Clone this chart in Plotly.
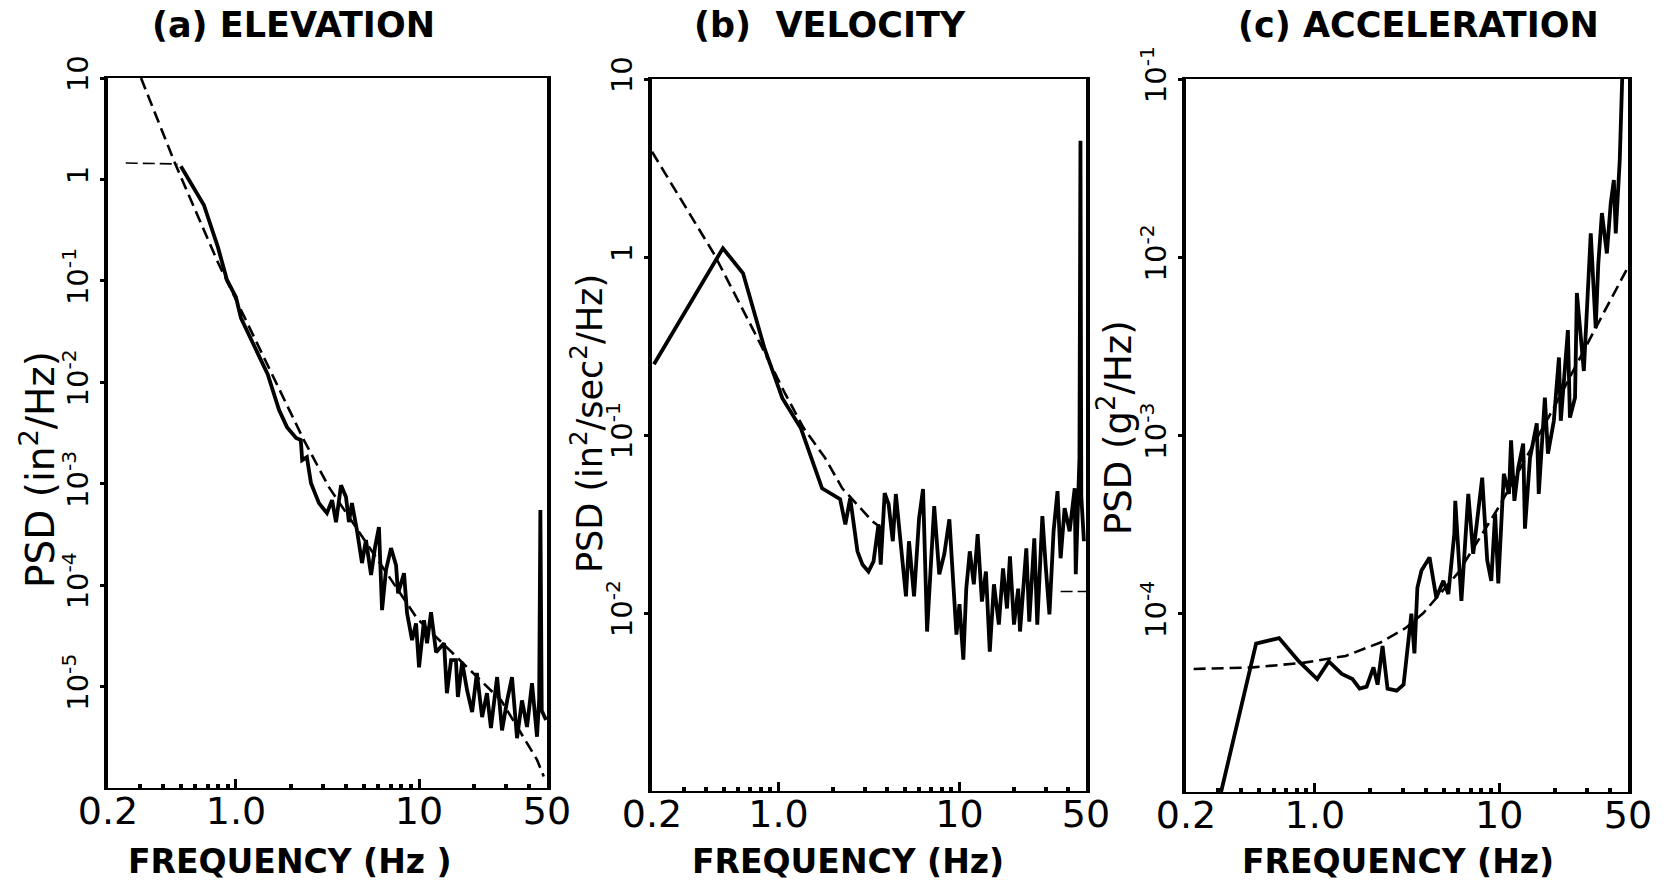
import math
import plotly.graph_objects as go

W, H = 1675, 886

# ---------------- (a) ELEVATION ----------------
elev_freq = [0.50, 0.668, 0.797, 0.893, 1.0, 1.065, 1.49, 1.72, 1.90, 2.13, 2.26, 2.30, 2.44, 2.57,
             2.84, 3.14, 3.35, 3.52, 3.75, 3.99, 4.14, 4.30, 4.58, 4.88, 5.13, 5.47, 5.75, 6.04,
             6.28, 6.60, 7.03, 7.49, 7.68, 8.28, 8.60, 9.16, 9.63, 10.0, 10.65, 11.06, 11.63,
             12.39, 13.7, 14.2, 14.96, 15.9, 16.3, 17.2, 18.3, 19.5, 20.7, 22.1, 23.5, 24.7,
             26.7, 28.4, 30.3, 32.2, 34.3, 36.5, 38.9, 41.4, 44.1, 45.3, 46.0, 46.8, 49.4]
elev_psd = [1.35, 0.56, 0.215, 0.102, 0.069, 0.043, 0.012, 0.00532, 0.00361, 0.00282, 0.00269,
            0.00171, 0.00183, 0.00101, 6.44e-4, 5.13e-4, 6.89e-4, 4.18e-4, 9.68e-4, 7.38e-4,
            4.18e-4, 6.44e-4, 3.48e-4, 1.65e-4, 2.78e-4, 1.26e-4, 2.37e-4, 3.73e-4, 5.67e-5,
            1.41e-4, 2.32e-4, 1.57e-4, 8.3e-5, 1.31e-4, 5.3e-5, 2.87e-5, 4.2e-5, 1.55e-5, 4.5e-5,
            2.68e-5, 5.4e-5, 2.18e-5, 2.68e-5, 8.6e-6, 1.82e-5, 1.82e-5, 7.9e-6, 1.74e-5, 9.2e-6,
            5.6e-6, 1.36e-5, 5.0e-6, 8.6e-6, 3.9e-6, 1.24e-5, 3.7e-6, 7.3e-6, 1.24e-5, 3.1e-6,
            7.3e-6, 4.0e-6, 1.08e-5, 3.2e-6, 7.5e-6, 5.5e-4, 5.8e-6, 4.7e-6]
elev_fit_freq = [0.303, 0.464, 0.80, 1.63, 2.35, 3.22, 9.75, 28.1, 44.1, 48.0]
elev_fit_psd = [10.0, 1.45, 0.15, 0.0105, 0.00269, 9.25e-4, 4.7e-5, 7.3e-6, 1.9e-6, 1.3e-6]
elev_low_freq = [0.25, 0.48]
elev_low_psd = [1.45, 1.42]

# ---------------- (b) VELOCITY ----------------
vel_freq = [0.205, 0.493, 0.637, 0.835, 1.05, 1.33, 1.74, 2.19, 2.34, 2.49, 2.73, 2.91, 3.14,
            3.35, 3.57, 3.67, 3.86, 4.06, 4.28, 4.45, 4.74, 5.06, 5.26, 5.61, 5.98, 6.29, 6.62,
            6.98, 7.25, 7.73, 8.24, 8.79, 9.25, 9.62, 10.0, 10.5, 10.9, 11.4, 12.0, 12.6, 13.3,
            14.0, 14.7, 15.5, 16.5, 17.4, 18.3, 19.0, 20.0, 21.1, 21.6, 23.4, 24.3, 25.9, 26.9,
            28.7, 29.9, 31.4, 33.1, 34.8, 36.2, 38.1, 40.6, 43.3, 43.9, 46.0, 46.6, 47.1, 48.7]
vel_psd = [0.25, 1.12, 0.81, 0.309, 0.161, 0.109, 0.0502, 0.0436, 0.0315, 0.0442, 0.0222,
           0.0187, 0.0171, 0.0195, 0.0315, 0.0187, 0.0471, 0.0408, 0.0253, 0.0466, 0.0243,
           0.0124, 0.0253, 0.0124, 0.034, 0.0497, 0.00787, 0.0214, 0.0398, 0.0165, 0.0214,
           0.0336, 0.0156, 0.00757, 0.0112, 0.00547, 0.0137, 0.0222, 0.0145, 0.0277, 0.0116,
           0.0171, 0.00607, 0.0145, 0.00861, 0.0178, 0.0106, 0.0208, 0.00861, 0.0137, 0.00787,
           0.0231, 0.00895, 0.0263, 0.00861, 0.035, 0.0187, 0.00982, 0.0288, 0.0484, 0.0203,
           0.0388, 0.0288, 0.0502, 0.0165, 0.0742, 4.5, 0.045, 0.0253]
vel_fit_freq = [0.2, 0.438, 0.763, 1.09, 1.38, 1.81, 2.25, 3.31, 3.7]
vel_fit_psd = [3.9, 1.05, 0.352, 0.17, 0.109, 0.0742, 0.0502, 0.0327, 0.030]
vel_tail_freq = [36.2, 50.0]
vel_tail_psd = [0.0132, 0.0132]

# ---------------- (c) ACCELERATION ----------------
acc_freq = [0.31, 0.48, 0.64, 0.82, 1.03, 1.19, 1.40, 1.60, 1.75, 1.91, 2.08, 2.19, 2.33, 2.48,
            2.78, 3.03, 3.34, 3.47, 3.60, 3.79, 4.19, 4.56, 4.98, 5.30, 5.71, 5.78, 6.24, 6.80,
            7.23, 8.09, 8.61, 9.06, 9.51, 9.89, 10.6, 11.3, 11.6, 12.1, 12.7, 13.5, 13.8, 14.7,
            16.0, 16.4, 17.7, 18.4, 19.8, 21.1, 21.6, 23.6, 24.2, 25.8, 26.4, 28.8, 31.4, 33.4,
            34.5, 36.1, 38.4, 40.3, 41.9, 42.9, 45.1, 46.2, 46.5]
acc_psd = [1.0e-5, 6.8e-5, 7.3e-5, 5.4e-5, 4.3e-5, 5.4e-5, 4.6e-5, 4.3e-5, 3.8e-5, 3.9e-5,
           5.0e-5, 4.0e-5, 6.6e-5, 3.8e-5, 3.7e-5, 4.0e-5, 1.0e-4, 6.0e-5, 1.4e-4, 1.75e-4,
           2.07e-4, 1.23e-4, 1.53e-4, 1.29e-4, 2.8e-4, 4.3e-4, 1.18e-4, 4.7e-4, 2.17e-4, 5.8e-4,
           2.0e-4, 1.53e-4, 3.65e-4, 1.48e-4, 6.1e-4, 4.7e-4, 9.4e-4, 4.3e-4, 6.6e-4, 9.0e-4,
           3.0e-4, 7.5e-4, 1.17e-3, 4.7e-4, 1.63e-3, 7.9e-4, 1.21e-3, 2.74e-3, 1.21e-3, 3.9e-3,
           1.26e-3, 1.63e-3, 6.3e-3, 2.3e-3, 1.36e-2, 4.0e-3, 9.2e-3, 1.77e-2, 1.05e-2, 2.01e-2,
           2.71e-2, 1.36e-2, 3.5e-2, 8.3e-2, 0.1]
acc_fit_freq = [0.22, 0.46, 0.86, 1.47, 2.27, 3.10, 3.88, 6.0, 10.0, 20.0, 35.0, 50.0]
acc_fit_psd = [4.9e-5, 5.0e-5, 5.3e-5, 5.8e-5, 6.9e-5, 8.3e-5, 1.01e-4, 1.7e-4, 4.0e-4,
               1.46e-3, 4.4e-3, 8.8e-3]

# ---------------- axes / labels ----------------
x_tick_vals = [0.2, 1, 10, 50]
x_tick_text = ["0.2", "1.0", "10", "50"]
x_minor_vals = [0.3, 0.4, 0.5, 0.6, 0.7, 0.8, 0.9, 2, 3, 4, 5, 6, 7, 8, 9, 20, 30, 40]

elev_y_vals = [10, 1, 0.1, 0.01, 1e-3, 1e-4, 1e-5]
elev_y_text = ["10", "1", "10<sup>-1</sup>", "10<sup>-2</sup>", "10<sup>-3</sup>",
               "10<sup>-4</sup>", "10<sup>-5</sup>"]
vel_y_vals = [10, 1, 0.1, 0.01]
vel_y_text = ["10", "1", "10<sup>-1</sup>", "10<sup>-2</sup>"]
acc_y_vals = [0.1, 0.01, 1e-3, 1e-4]
acc_y_text = ["10<sup>-1</sup>", "10<sup>-2</sup>", "10<sup>-3</sup>", "10<sup>-4</sup>"]

panel_titles = ["(a) ELEVATION", "(b)  VELOCITY", "(c) ACCELERATION"]
x_titles = ["FREQUENCY (Hz )", "FREQUENCY (Hz)", "FREQUENCY (Hz)"]
y_titles = ["PSD (in<sup>2</sup>/Hz)", "PSD (in<sup>2</sup>/sec<sup>2</sup>/Hz)",
            "PSD (g<sup>2</sup>/Hz)"]

FONT = "DejaVu Sans"
BLACK = "black"

# pixel boxes of the three plot areas (left, right, top, bottom)
boxes = [(108, 547, 78, 788), (652, 1086, 79, 791), (1186, 1628, 79, 792)]
y_ranges = [[-6, 1], [-3, 1], [-5, -1]]


def px_x(p):
    return p / W


def px_y(p):
    return 1 - p / H


fig = go.Figure()

solid = dict(color=BLACK, width=3.8)
fitline = dict(color=BLACK, width=2.6, dash="12px,6px")
thin = dict(color=BLACK, width=1.6, dash="12px,5px")

fig.add_trace(go.Scatter(x=elev_low_freq, y=elev_low_psd, mode="lines", line=thin, xaxis="x", yaxis="y"))
fig.add_trace(go.Scatter(x=elev_fit_freq, y=elev_fit_psd, mode="lines", line=fitline, xaxis="x", yaxis="y"))
fig.add_trace(go.Scatter(x=elev_freq, y=elev_psd, mode="lines", line=solid, xaxis="x", yaxis="y"))

fig.add_trace(go.Scatter(x=vel_fit_freq, y=vel_fit_psd, mode="lines", line=fitline, xaxis="x2", yaxis="y2"))
fig.add_trace(go.Scatter(x=vel_tail_freq, y=vel_tail_psd, mode="lines", line=thin, xaxis="x2", yaxis="y2"))
fig.add_trace(go.Scatter(x=vel_freq, y=vel_psd, mode="lines", line=solid, xaxis="x2", yaxis="y2"))

fig.add_trace(go.Scatter(x=acc_fit_freq, y=acc_fit_psd, mode="lines", line=fitline, xaxis="x3", yaxis="y3"))
fig.add_trace(go.Scatter(x=acc_freq, y=acc_psd, mode="lines", line=solid, xaxis="x3", yaxis="y3"))

y_vals_all = [elev_y_vals, vel_y_vals, acc_y_vals]
y_text_all = [elev_y_text, vel_y_text, acc_y_text]

layout = dict(
    width=W, height=H,
    margin=dict(l=0, r=0, t=0, b=0, pad=0, autoexpand=False),
    paper_bgcolor="white", plot_bgcolor="white",
    showlegend=False,
    hovermode=False,
    font=dict(family=FONT, color=BLACK),
)

for i, (l, r, t, b) in enumerate(boxes):
    sfx = "" if i == 0 else str(i + 1)
    layout["xaxis" + sfx] = dict(
        type="log", range=[math.log10(0.2), math.log10(50)],
        domain=[px_x(l), px_x(r)], anchor="y" + sfx, automargin=False,
        showline=True, linecolor=BLACK, linewidth=2, mirror=True,
        showgrid=False, zeroline=False,
        tickmode="array", tickvals=x_tick_vals, ticktext=x_tick_text,
        ticks="inside", ticklen=9, tickwidth=3, tickcolor=BLACK,
        ticklabelstandoff=-12,
        tickfont=dict(size=38, family=FONT, color=BLACK),
        minor=dict(tickmode="array", tickvals=x_minor_vals, ticks="inside",
                   ticklen=4, tickwidth=4, tickcolor=BLACK, showgrid=False),
    )
    layout["yaxis" + sfx] = dict(
        type="log", range=y_ranges[i],
        domain=[px_y(b), px_y(t)], anchor="x" + sfx, automargin=False,
        showline=True, linecolor=BLACK, linewidth=4, mirror=True,
        showgrid=False, zeroline=False,
        tickmode="array", tickvals=y_vals_all[i], ticktext=y_text_all[i],
        ticks="outside", ticklen=4, tickwidth=3, tickcolor=BLACK,
        tickangle=-90,
        tickfont=dict(size=29, family=FONT, color=BLACK),
    )

fig.update_layout(**layout)

annotations = []
title_x = [293, 830, 1418]
for i, txt in enumerate(panel_titles):
    annotations.append(dict(text="<b>" + txt + "</b>", x=px_x(title_x[i]), y=px_y(25),
                            xref="paper", yref="paper",
                            xanchor="center", yanchor="middle", showarrow=False,
                            font=dict(size=35, family=FONT, color=BLACK)))
xt_x = [290, 848, 1398]
for i, txt in enumerate(x_titles):
    annotations.append(dict(text="<b>" + txt + "</b>", x=px_x(xt_x[i]), y=px_y(861),
                            xref="paper", yref="paper",
                            xanchor="center", yanchor="middle", showarrow=False,
                            font=dict(size=33, family=FONT, color=BLACK)))
yt_pos = [(38, 470), (587, 424), (1116, 428)]
yt_size = [39, 35, 37]
for i, txt in enumerate(y_titles):
    annotations.append(dict(text=txt, x=px_x(yt_pos[i][0]), y=px_y(yt_pos[i][1]), xref="paper",
                            yref="paper", xanchor="center", yanchor="middle", showarrow=False,
                            textangle=-90, font=dict(size=yt_size[i], family=FONT, color=BLACK)))
fig.update_layout(annotations=annotations)

# drop the browser's default 8px body margin so the figure sits at the page origin
fig.write_html("out.html",
               config={"displayModeBar": False, "staticPlot": True},
               post_script="document.body.style.margin='0px';document.body.style.overflow='hidden';")
